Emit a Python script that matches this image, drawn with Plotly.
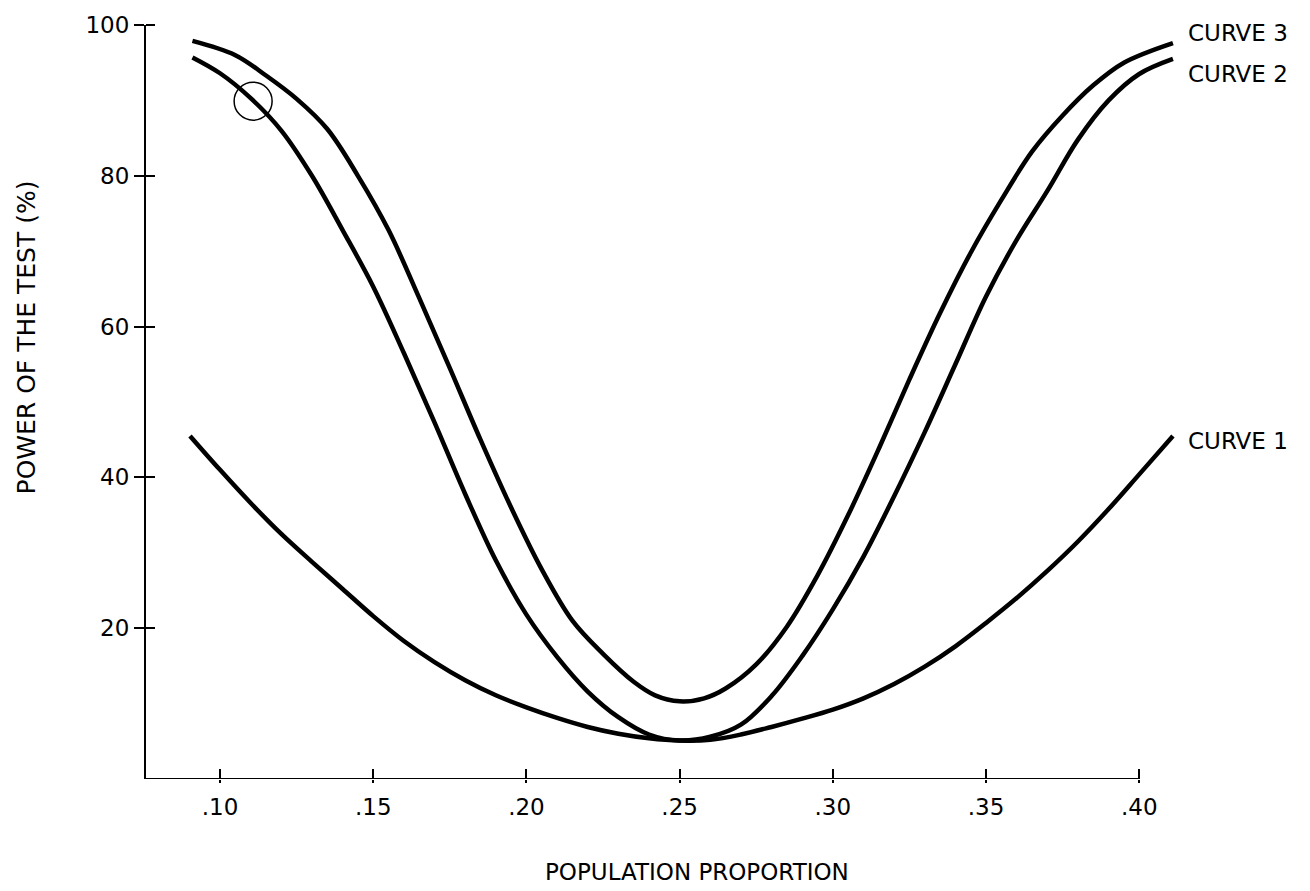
import plotly.graph_objects as go

# ---- data ----
curve3_x = [.091, .105, .115, .125, .135, .145, .155, .165, .175, .185, .195, .205, .215,
            .225, .235, .242, .250, .258, .265, .275, .285, .295, .305, .315, .325, .335,
            .345, .355, .365, .375, .385, .395, .411]
curve3_y = [97.9, 96.0, 93.3, 90.2, 86.2, 80.0, 72.8, 63.8, 54.5, 45.0, 36.0, 27.8, 21.0,
            16.6, 12.9, 11.1, 10.3, 10.7, 12.0, 15.2, 20.2, 27.0, 35.0, 43.8, 53.0, 61.8,
            69.8, 76.8, 83.2, 88.0, 92.0, 95.0, 97.6]

curve2_x = [.091, .100, .110, .120, .130, .140, .150, .160, .170, .180, .190, .200, .210,
            .220, .230, .240, .250, .260, .270, .280, .290, .300, .310, .320, .330, .340,
            .350, .360, .370, .380, .390, .400, .411]
curve2_y = [95.7, 93.6, 90.3, 86.0, 80.0, 72.8, 65.3, 56.5, 47.3, 37.8, 29.0, 21.8, 16.2,
            11.6, 8.2, 5.9, 5.1, 5.6, 7.2, 11.0, 16.3, 22.5, 29.5, 37.5, 46.0, 55.0,
            64.0, 71.5, 78.0, 84.8, 90.0, 93.5, 95.5]

curve1_x = [.0902, .100, .110, .120, .130, .140, .150, .160, .170, .180, .190, .200, .210,
            .220, .230, .240, .250, .260, .270, .280, .290, .300, .310, .320, .330, .340,
            .350, .360, .370, .380, .390, .400, .411]
curve1_y = [45.5, 41.0, 36.6, 32.5, 28.8, 25.2, 21.6, 18.3, 15.5, 13.1, 11.1, 9.5, 8.1,
            6.9, 6.0, 5.4, 5.1, 5.2, 5.9, 6.9, 8.0, 9.2, 10.7, 12.6, 14.9, 17.6,
            20.7, 24.0, 27.6, 31.5, 35.8, 40.4, 45.5]

circle_x = [0.1108]
circle_y = [89.9]

curve_labels = ["CURVE 1", "CURVE 2", "CURVE 3"]
x_tickvals = [0.10, 0.15, 0.20, 0.25, 0.30, 0.35, 0.40]
x_ticktext = [".10", ".15", ".20", ".25", ".30", ".35", ".40"]
y_tickvals = [20, 40, 60, 80, 100]
x_title = "POPULATION PROPORTION"
y_title = "POWER OF THE TEST (%)"

X_MIN, X_MAX = 0.07584, 0.412
FONT = "DejaVu Sans"

fig = go.Figure()
line_style = dict(color="black", width=4.5, shape="spline", smoothing=1.0)
for xs, ys in [(curve1_x, curve1_y), (curve2_x, curve2_y), (curve3_x, curve3_y)]:
    fig.add_trace(go.Scatter(x=xs, y=ys, mode="lines", line=line_style,
                             hoverinfo="skip", showlegend=False))

fig.add_trace(go.Scatter(x=circle_x, y=circle_y, mode="markers",
                         marker=dict(symbol="circle-open", size=38, color="black",
                                     line=dict(width=1.5)),
                         showlegend=False, hoverinfo="skip"))

# x axis line only up to .40
fig.add_shape(type="line", xref="x", yref="y", x0=X_MIN, x1=0.40, y0=0, y1=0,
              line=dict(color="black", width=2))

label_shifts = [(curve1_x, curve1_y, -5), (curve2_x, curve2_y, -15), (curve3_x, curve3_y, 10)]
for lab, (xs, ys, ysh) in zip(curve_labels, label_shifts):
    fig.add_annotation(x=xs[-1], y=ys[-1], xref="x", yref="y", text=lab, showarrow=False,
                       xanchor="left", yanchor="middle", xshift=13, yshift=ysh,
                       font=dict(family=FONT, size=23, color="black"))

fig.add_annotation(x=0.535, y=-0.124, xref="paper", yref="paper", text=x_title,
                   showarrow=False, xanchor="center", yanchor="middle",
                   font=dict(family=FONT, size=23, color="black"))
fig.add_annotation(x=-0.116, y=0.585, xref="paper", yref="paper", text=y_title,
                   textangle=-90, showarrow=False, xanchor="center", yanchor="middle",
                   font=dict(family=FONT, size=25, color="black"))

fig.update_layout(
    width=1310, height=891,
    margin=dict(l=146, r=134, t=21, b=112),
    paper_bgcolor="white", plot_bgcolor="white",
    font=dict(family=FONT, size=23, color="black"),
    xaxis=dict(range=[X_MIN, X_MAX], tickvals=x_tickvals, ticktext=x_ticktext,
               ticks="inside", ticklen=10, tickwidth=2, tickcolor="black",
               minor=dict(tickmode="array", tickvals=x_tickvals, ticks="outside",
                          ticklen=3, tickwidth=2, tickcolor="black", showgrid=False),
               showline=False, showgrid=False, zeroline=False, ticklabelstandoff=12,
               tickfont=dict(family=FONT, size=23)),
    yaxis=dict(range=[0, 100], tickvals=y_tickvals, ticks="outside", ticklen=10,
               tickwidth=2, tickcolor="black",
               minor=dict(tickmode="array", tickvals=y_tickvals, ticks="inside",
                          ticklen=9, tickwidth=2, tickcolor="black", showgrid=False),
               showline=True, linewidth=2, linecolor="black",
               showgrid=False, zeroline=False, tickfont=dict(family=FONT, size=23)),
)

fig.write_html("out.html")
